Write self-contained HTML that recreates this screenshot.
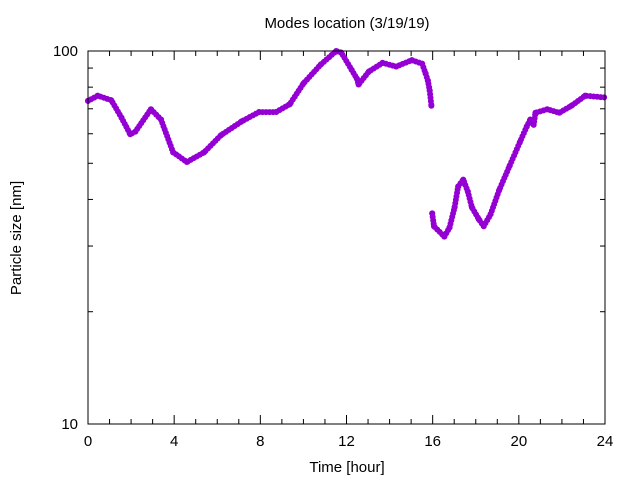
<!DOCTYPE html>
<html><head><meta charset="utf-8"><style>
body{margin:0;background:#fff}
svg text{font-family:"Liberation Sans",sans-serif;font-size:15px;fill:#000}
</style></head><body>
<svg id="chart" width="640" height="480" xmlns="http://www.w3.org/2000/svg">
<text x="347" y="28" text-anchor="middle">Modes location (3/19/19)</text>
<text x="347" y="472" text-anchor="middle">Time [hour]</text>
<text transform="translate(21,238) rotate(-90)" text-anchor="middle">Particle size [nm]</text>
<g id="axes"></g>
<g id="marks"></g>
<rect x="88" y="51" width="517" height="373" fill="none" stroke="#000" stroke-width="1"/>
</svg>
<script>
const seg1Hours=[0,0.45,1.08,1.56,1.96,2.2,2.92,3.39,3.95,4.59,5.39,6.18,7.14,7.94,8.73,9.37,10.0,10.8,11.52,11.76,12.24,12.48,12.56,13.04,13.67,14.31,15.03,15.51,15.67,15.78,15.86,15.94];
const seg1Sizes=[73.5,75.9,73.8,66.2,59.8,60.8,69.8,65.5,53.5,50.4,53.5,59.5,64.8,68.6,68.6,72.0,81.8,91.9,100,99,89,84.4,81.3,88.1,92.9,90.9,94.5,92.5,87.1,83.2,78.4,71.3];
const seg2Hours=[15.98,16.06,16.54,16.78,17.02,17.18,17.42,17.63,17.82,18.14,18.37,18.69,19.09,19.57,20.05,20.37,20.53,20.69,20.77,21.32,21.88,22.44,23.08,23.96];
const seg2Sizes=[36.7,33.9,31.8,33.6,38.1,43.3,45.2,42.0,38.1,35.4,33.9,36.5,42.4,49.2,57.0,62.8,65.5,63.4,68.3,69.8,68.3,71.3,75.9,75.1];
const xTickLabels=[0,4,8,12,16,20,24];
const yTickLabels=[10,100];
const X0=88,X1=605,Y0=424,Y1=51;
const xs=h=>X0+(h/24)*(X1-X0);
const ys=v=>Y0-(Math.log10(v)-1)*(Y0-Y1);
const NS="http://www.w3.org/2000/svg";
const axes=document.getElementById('axes');
const marks=document.getElementById('marks');
function line(x1,y1,x2,y2,name){const l=document.createElementNS(NS,'line');l.setAttribute('x1',x1);l.setAttribute('y1',y1);l.setAttribute('x2',x2);l.setAttribute('y2',y2);l.setAttribute('stroke','#000');


axes.appendChild(l);}
function text(x,y,s,anchor,name){const t=document.createElementNS(NS,'text');t.setAttribute('x',x);t.setAttribute('y',y);t.setAttribute('text-anchor',anchor);t.textContent=s;


axes.appendChild(t);}
for(let h=0;h<=24;h++){const x=xs(h);const len=h%4===0?9:5;line(x,Y0,x,Y0-len,'x-tick');line(x,Y1,x,Y1+len,'x-tick');}
xTickLabels.forEach(h=>text(xs(h),446,String(h),'middle','x-tick-label'));
for(let v=10;v<=100;v+=10){const y=ys(v);const len=(v===10||v===100)?9:5;line(X0,y,X0+len,y,'y-tick');line(X1,y,X1-len,y,'y-tick');}
yTickLabels.forEach(v=>text(78,ys(v)+5,String(v),'end','y-tick-label'));
function series(hs,vs,name){
  let d='';hs.forEach((h,i)=>{d+=(i?'L':'M')+xs(h).toFixed(1)+','+ys(vs[i]).toFixed(1);});
  const p=document.createElementNS(NS,'path');p.setAttribute('d',d);p.setAttribute('fill','none');p.setAttribute('stroke','#9400d3');p.setAttribute('stroke-width','6');p.setAttribute('stroke-linecap','round');p.setAttribute('stroke-linejoin','round');p.setAttribute('stroke-dasharray','0 3.5');
  
  
  marks.appendChild(p);
  hs.forEach((h,i)=>{const c=document.createElementNS(NS,'circle');c.setAttribute('cx',xs(h));c.setAttribute('cy',ys(vs[i]));c.setAttribute('r',3);c.setAttribute('fill','#9400d3');
  
  
  marks.appendChild(c);});
}
series(seg1Hours,seg1Sizes,'segment-1');
series(seg2Hours,seg2Sizes,'segment-2');
</script>
</body></html>
